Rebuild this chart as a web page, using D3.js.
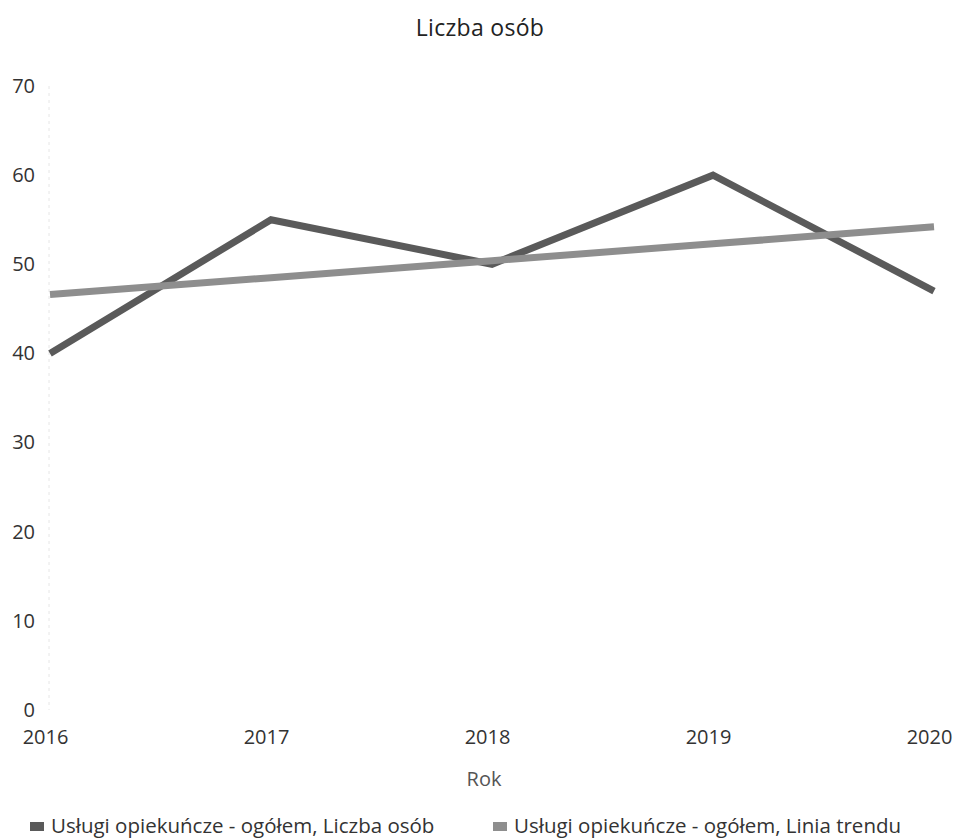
<!DOCTYPE html>
<html><head><meta charset="utf-8">
<script src="https://cdn.jsdelivr.net/npm/d3@7"></script>
<style>body{margin:0;background:#fff;}svg{display:block;font-family:"Open Sans",sans-serif;}</style>
</head><body>
<svg id="c" width="958" height="839"></svg>
<script>
const years = [2016, 2017, 2018, 2019, 2020];
const liczbaOsob = [40, 55, 50, 60, 47];
const liniaTrendu = [46.6, 48.5, 50.4, 52.3, 54.2];
const yTicks = [0, 10, 20, 30, 40, 50, 60, 70];
const title = "Liczba osób";
const xTitle = "Rok";
const seriesNames = ["Usługi opiekuńcze - ogółem, Liczba osób", "Usługi opiekuńcze - ogółem, Linia trendu"];
const colors = ["#5a5a5a", "#8e8e8e"];

const svg = d3.select("#c");
const x = d3.scalePoint().domain(years).range([50, 934]);
const y = d3.scaleLinear().domain([0, 70]).range([710, 86]);

svg.append("text").attr("x", 480).attr("y", 36).attr("text-anchor", "middle")
  .attr("font-size", 23).attr("letter-spacing", 0.3).attr("fill", "#222").text(title);

// faint axis line
svg.append("line").attr("x1", 49).attr("x2", 49).attr("y1", y(70)).attr("y2", y(0))
  .attr("stroke", "#e6e6e6").attr("stroke-width", 1).attr("stroke-dasharray", "3,4");

const yAxis = d3.axisLeft(y).tickValues(yTicks).tickSize(0).tickPadding(0);
const gy = svg.append("g").attr("transform", "translate(35,0)").call(yAxis);
gy.select(".domain").remove();
gy.selectAll("text").attr("font-size", 20).attr("fill", "#333").attr("font-family", "Open Sans, sans-serif");

const xAxis = d3.axisBottom(x).tickSize(0).tickPadding(0).tickFormat(d3.format("d"));
const gx = svg.append("g").attr("transform", "translate(-5,730)").call(xAxis);
gx.select(".domain").remove();
gx.selectAll("text").attr("font-size", 20).attr("fill", "#333").attr("font-family", "Open Sans, sans-serif");

svg.append("text").attr("x", 484).attr("y", 786).attr("text-anchor", "middle")
  .attr("font-size", 20).attr("fill", "#555").text(xTitle);

const line = d3.line().x((d, i) => x(years[i])).y(d => y(d));
svg.append("path").datum(liczbaOsob).attr("d", line).attr("fill", "none")
  .attr("stroke", colors[0]).attr("stroke-width", 7).attr("stroke-linejoin", "miter");
svg.append("path").datum(liniaTrendu).attr("d", line).attr("fill", "none")
  .attr("stroke", colors[1]).attr("stroke-width", 7);

const legX = [30, 493];
seriesNames.forEach((n, i) => {
  svg.append("rect").attr("x", legX[i]).attr("y", 822).attr("width", 14).attr("height", 9).attr("fill", colors[i]);
  svg.append("text").attr("x", legX[i] + 21).attr("y", 833).attr("font-size", 20.5).attr("fill", "#333").text(n);
});
</script>
</body></html>
